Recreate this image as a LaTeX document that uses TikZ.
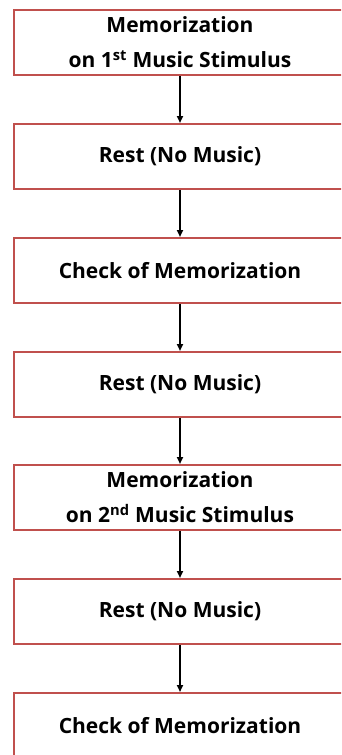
\documentclass[tikz,border=0pt]{standalone}
\usepackage{fontspec}
\setmainfont{Open Sans}
\usetikzlibrary{arrows.meta}
\definecolor{boxred}{RGB}{192,80,77}
\begin{document}
\begin{tikzpicture}[x=1pt,y=-1pt,
  stepbox/.style={draw=boxred, line width=2pt, fill=white, minimum width=332pt, minimum height=65pt, inner sep=0pt, align=center, font=\bfseries\fontsize{21}{35}\selectfont},
  arr/.style={line width=1.8pt, -{Triangle[length=7pt,width=6pt]}}]
\useasboundingbox (0,0) rectangle (341,755);
\clip (0,0) rectangle (341,755);
\node[stepbox] (b1) at (180,42.5) {Memorization\\on 1\textsuperscript{st} Music Stimulus};
\node[stepbox] (b2) at (180,156.5) {Rest (No Music)};
\node[stepbox] (b3) at (180,270.5) {Check of Memorization};
\node[stepbox] (b4) at (180,384.5) {Rest (No Music)};
\node[stepbox] (b5) at (180,497.5) {Memorization\\on 2\textsuperscript{nd} Music Stimulus};
\node[stepbox] (b6) at (180,611.5) {Rest (No Music)};
\node[stepbox] (b7) at (180,725.5) {Check of Memorization};
\draw[arr] (b1.south) -- (b2.north);
\draw[arr] (b2.south) -- (b3.north);
\draw[arr] (b3.south) -- (b4.north);
\draw[arr] (b4.south) -- (b5.north);
\draw[arr] (b5.south) -- (b6.north);
\draw[arr] (b6.south) -- (b7.north);
\end{tikzpicture}
\end{document}
